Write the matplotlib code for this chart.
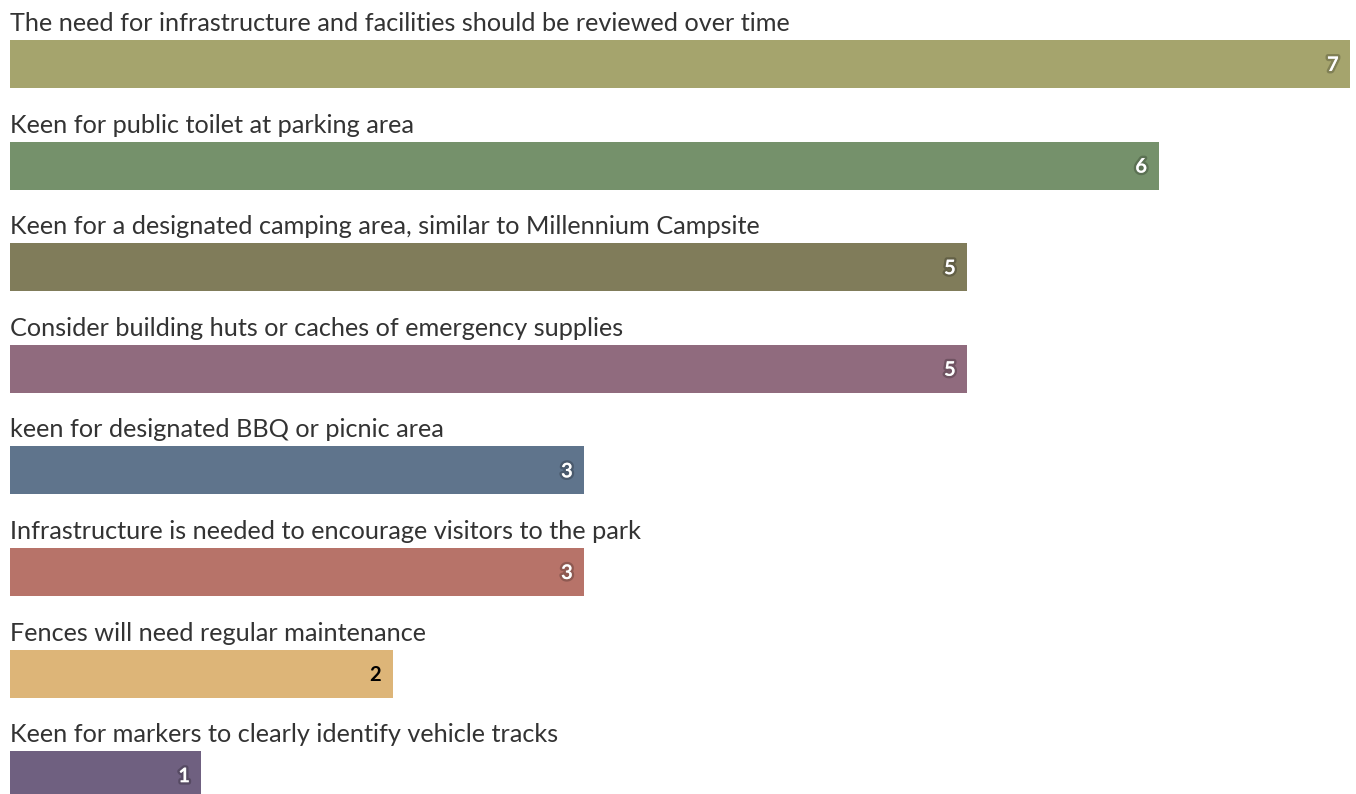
import matplotlib
matplotlib.use("Agg")
import matplotlib.pyplot as plt
import matplotlib.patheffects as pe

categories = [
    "The need for infrastructure and facilities should be reviewed over time",
    "Keen for public toilet at parking area",
    "Keen for a designated camping area, similar to Millennium Campsite",
    "Consider building huts or caches of emergency supplies",
    "keen for designated BBQ or picnic area",
    "Infrastructure is needed to encourage visitors to the park",
    "Fences will need regular maintenance",
    "Keen for markers to clearly identify vehicle tracks",
]
values = [7, 6, 5, 5, 3, 3, 2, 1]
colors = ["#A5A46D", "#75916B", "#807C5A", "#906B7E", "#5F748C", "#B77369", "#DDB578", "#6F6080"]
label_colors = ["white", "white", "white", "white", "white", "white", "black", "white"]

W, H = 1356, 794
fig = plt.figure(figsize=(W / 100, H / 100), dpi=100)
ax = fig.add_axes([10 / W, 0, 1340 / W, 1])
ax.set_xlim(0, 7)
ax.set_ylim(7.185, -0.63)
ax.axis("off")

font = "Lato"
for i, (cat, v, c, lc) in enumerate(zip(categories, values, colors, label_colors)):
    ax.barh(i, v, height=0.472, color=c, edgecolor="none")
    ax.text(0, i - 0.325, cat, ha="left", va="baseline", fontsize=18.2,
            color="#333333", family=font)
    if lc == "white":
        eff = [pe.withStroke(linewidth=3.5, foreground=(0, 0, 0, 0.22))]
    else:
        eff = []
    ax.text(v - 0.06, i + 0.01, str(v), ha="right", va="center", fontsize=14.5,
            fontweight="bold", color=lc, family=font, path_effects=eff)

fig.savefig("out.png", dpi=100)
